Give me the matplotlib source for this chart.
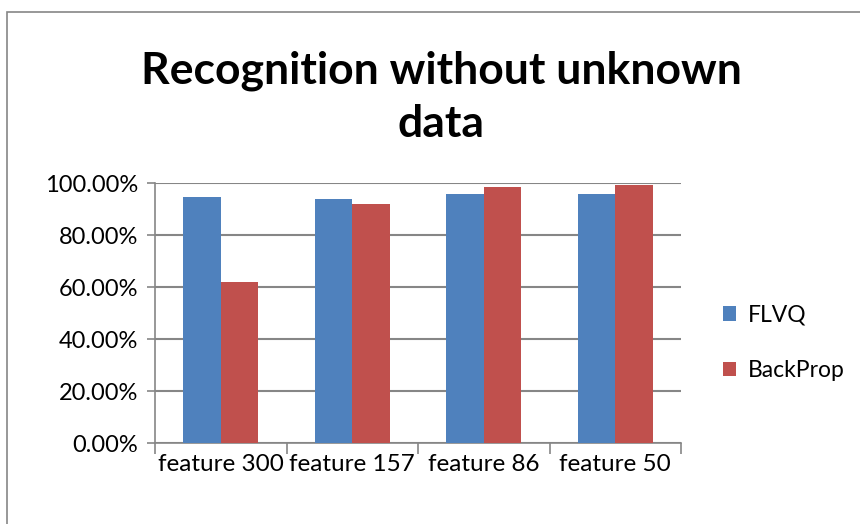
import numpy as np
import matplotlib.pyplot as plt
from matplotlib.patches import Rectangle
from matplotlib.ticker import FuncFormatter, FixedLocator

categories = ['feature 300', 'feature 157', 'feature 86', 'feature 50']
flvq = [94.6, 94.0, 95.6, 95.6]
backprop = [62.0, 92.1, 98.6, 99.2]
series_names = ['FLVQ', 'BackProp']
colors = ['#4F81BD', '#C0504D']

plt.rcParams['font.family'] = ['Lato', 'DejaVu Sans']

fig = plt.figure(figsize=(8.6, 5.24), dpi=100)
# chart frame
fig.patches.append(Rectangle((7 / 860, -0.01), 1.0, 1 - 12 / 524 + 0.01,
                             transform=fig.transFigure, fill=False,
                             edgecolor='#868686', linewidth=1.2))

ax = fig.add_axes([155 / 860, 1 - 443 / 524, 526 / 860, 260 / 524])

x = np.arange(len(categories))
w = 0.285
ax.bar(x - w / 2, flvq, w, color=colors[0], label=series_names[0], zorder=3)
ax.bar(x + w / 2, backprop, w, color=colors[1], label=series_names[1], zorder=3)

ax.set_xlim(-0.5, len(categories) - 0.5)
ax.set_ylim(0, 100)
ax.set_yticks(np.arange(0, 101, 20))
ax.yaxis.set_major_formatter(FuncFormatter(lambda v, p: '%.2f%%' % v))
ax.set_xticks(x)
ax.set_xticklabels(categories)
ax.xaxis.set_minor_locator(FixedLocator(np.arange(-0.5, len(categories), 1)))

ax.tick_params(axis='x', which='major', length=0, pad=8, labelsize=17.5)
ax.tick_params(axis='x', which='minor', length=8, width=1.2, color='#868686')
ax.tick_params(axis='y', length=6, width=1.2, color='#868686', labelsize=17, pad=6)

ax.grid(axis='y', color='#868686', linewidth=1.5, zorder=0)
for s in ['top', 'right']:
    ax.spines[s].set_visible(False)
for s in ['left', 'bottom']:
    ax.spines[s].set_color('#868686')
    ax.spines[s].set_linewidth(1.2)

fig.text(441 / 860, 1 - 97 / 524, 'Recognition without unknown\ndata',
         ha='center', va='center', fontsize=32, fontweight='bold',
         linespacing=1.4)

ax.legend(loc='center left', bbox_to_anchor=(1.04, 0.385), frameon=False,
          fontsize=16.5, handlelength=0.6, handleheight=0.6, labelspacing=1.5,
          handletextpad=0.5)

plt.savefig('out.png', dpi=100)
